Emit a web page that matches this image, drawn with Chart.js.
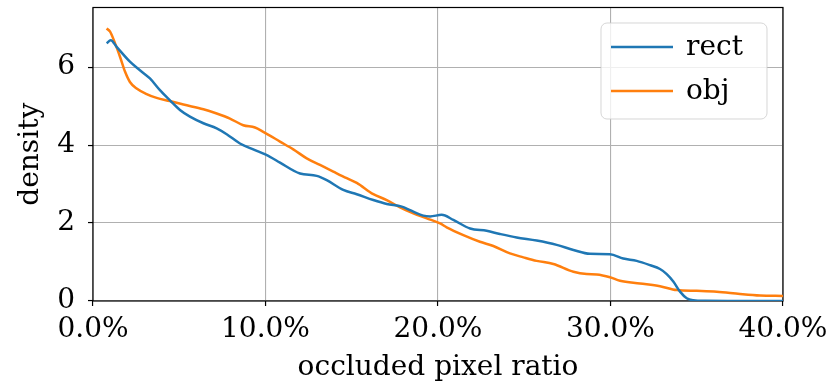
<!DOCTYPE html>
<html>
<head>
<meta charset="utf-8">
<title>density</title>
<script src="https://cdn.jsdelivr.net/npm/chart.js@4/dist/chart.umd.min.js"></script>
<style>
  html, body { margin: 0; padding: 0; background: #ffffff; }
  #wrap { width: 830px; height: 390px; position: relative; }
</style>
</head>
<body>
<div id="wrap"><canvas id="c" width="830" height="390"></canvas></div>
<script>
// occluded pixel ratio (%) and density for each method
const seriesNames = ['rect', 'obj'];
const seriesColors = ['#1f77b4', '#ff7f0e'];

const rectX = [0.79, 1.03, 1.37, 2.14, 2.72, 3.30, 3.88, 4.46, 5.04, 5.62, 6.40, 7.17, 7.75, 8.52, 9.29, 10.26,
  10.84, 12.0, 12.97, 13.55, 14.51, 15.29, 16.25, 17.03, 17.9, 18.38, 19.15, 19.54, 20.21, 20.89, 21.86, 22.82,
  23.59, 24.56, 25.72, 26.88, 27.85, 28.81, 29.97, 30.74, 31.52, 32.29, 32.87, 33.26, 33.64, 34.03, 34.42, 34.8,
  35.5, 37.0, 40.0];
const rectY = [6.61, 6.69, 6.52, 6.14, 5.92, 5.71, 5.41, 5.15, 4.90, 4.73, 4.56, 4.43, 4.28, 4.04, 3.89, 3.70,
  3.55, 3.27, 3.21, 3.10, 2.85, 2.74, 2.59, 2.49, 2.42, 2.33, 2.19, 2.17, 2.21, 2.08, 1.86, 1.80,
  1.72, 1.63, 1.55, 1.44, 1.31, 1.21, 1.20, 1.09, 1.03, 0.92, 0.82, 0.69, 0.50, 0.24, 0.07, 0.02,
  0.005, 0.003, 0.002];

const objX = [0.79, 0.99, 1.28, 1.57, 1.86, 2.14, 2.53, 3.11, 3.69, 4.46, 5.24, 6.40, 7.17, 7.94, 8.71, 9.39,
  9.87, 10.84, 11.61, 12.39, 13.16, 13.93, 14.71, 15.29, 16.25, 17.03, 17.80, 18.57, 19.35, 20.12, 20.5, 21.47,
  22.43, 23.21, 24.17, 24.95, 25.72, 26.69, 27.85, 28.62, 29.2, 29.97, 30.55, 31.71, 32.87, 33.84, 35.0, 36.16,
  37.51, 38.67, 40.0];
const objY = [6.99, 6.91, 6.61, 6.26, 5.88, 5.62, 5.45, 5.31, 5.21, 5.13, 5.04, 4.92, 4.81, 4.68, 4.51, 4.45,
  4.34, 4.09, 3.89, 3.66, 3.49, 3.32, 3.15, 3.03, 2.74, 2.59, 2.40, 2.25, 2.12, 1.99, 1.89, 1.69,
  1.52, 1.41, 1.22, 1.12, 1.03, 0.95, 0.75, 0.69, 0.68, 0.61, 0.52, 0.45, 0.38, 0.28, 0.26, 0.24,
  0.18, 0.14, 0.13];

const xTicks = [0, 10, 20, 30, 40];
const yTicks = [0, 2, 4, 6];

const FONT = 'DejaVu Serif';
const FONT_SIZE = 28;
const LINE_W = 2.5;

const toPoints = (xs, ys) => xs.map((x, i) => ({ x: x, y: ys[i] }));

// black frame around the plotting area
const framePlugin = {
  id: 'frame',
  beforeDatasetsDraw(chart) {
    const { ctx, chartArea: a } = chart;
    ctx.save();
    ctx.strokeStyle = '#000000';
    ctx.lineWidth = 1.2;
    ctx.strokeRect(a.left, a.top, a.right - a.left, a.bottom - a.top);
    ctx.restore();
  }
};

// legend box in the upper right of the plotting area
const boxLegendPlugin = {
  id: 'boxLegend',
  afterDraw(chart) {
    const { ctx } = chart;
    const x = 601, y = 23, w = 166, h = 96, r = 6;
    ctx.save();
    ctx.beginPath();
    ctx.moveTo(x + r, y);
    ctx.lineTo(x + w - r, y);
    ctx.arcTo(x + w, y, x + w, y + r, r);
    ctx.lineTo(x + w, y + h - r);
    ctx.arcTo(x + w, y + h, x + w - r, y + h, r);
    ctx.lineTo(x + r, y + h);
    ctx.arcTo(x, y + h, x, y + h - r, r);
    ctx.lineTo(x, y + r);
    ctx.arcTo(x, y, x + r, y, r);
    ctx.closePath();
    ctx.fillStyle = 'rgba(255,255,255,0.8)';
    ctx.fill();
    ctx.strokeStyle = 'rgba(204,204,204,0.8)';
    ctx.lineWidth = 1;
    ctx.stroke();

    ctx.font = FONT_SIZE + 'px "' + FONT + '"';
    ctx.textBaseline = 'alphabetic';
    ctx.textAlign = 'left';
    chart.data.datasets.forEach((ds, i) => {
      const ly = 47 + i * 44;
      ctx.beginPath();
      ctx.moveTo(611, ly);
      ctx.lineTo(673, ly);
      ctx.strokeStyle = ds.borderColor;
      ctx.lineWidth = LINE_W;
      ctx.stroke();
      ctx.fillStyle = '#000000';
      ctx.fillText(ds.label, 686, ly + 8);
    });
    ctx.restore();
  }
};

new Chart(document.getElementById('c'), {
  type: 'line',
  data: {
    datasets: [
      { label: seriesNames[0], data: toPoints(rectX, rectY), borderColor: seriesColors[0],
        backgroundColor: seriesColors[0], borderWidth: LINE_W, pointRadius: 0, cubicInterpolationMode: 'monotone', fill: false },
      { label: seriesNames[1], data: toPoints(objX, objY), borderColor: seriesColors[1],
        backgroundColor: seriesColors[1], borderWidth: LINE_W, pointRadius: 0, cubicInterpolationMode: 'monotone', fill: false }
    ]
  },
  options: {
    responsive: false,
    animation: false,
    events: [],
    layout: { padding: { left: 0, right: 47, top: 7.5, bottom: 0 } },
    plugins: { legend: { display: false }, tooltip: { enabled: false } },
    scales: {
      x: {
        type: 'linear',
        min: 0,
        max: 40,
        afterBuildTicks(scale) { scale.ticks = xTicks.map(v => ({ value: v })); },
        afterFit(scale) {
          scale.height = 89;
          scale.paddingLeft = 0; scale.paddingRight = 0;
          scale.paddingTop = 0; scale.paddingBottom = 0;
        },
        ticks: {
          callback: v => v.toFixed(1) + '%',
          color: '#000000',
          font: { family: FONT, size: FONT_SIZE },
          padding: 7,
          maxRotation: 0,
          autoSkip: false
        },
        grid: { color: '#b0b0b0', lineWidth: 1.1, tickColor: '#000000', tickLength: 5, tickWidth: 1.2 },
        border: { display: false },
        title: {
          display: true,
          text: 'occluded pixel ratio',
          color: '#000000',
          font: { family: FONT, size: FONT_SIZE },
          padding: { top: 0, bottom: 5 }
        }
      },
      y: {
        type: 'linear',
        min: 0,
        max: 7.53,
        afterBuildTicks(scale) { scale.ticks = yTicks.map(v => ({ value: v })); },
        afterFit(scale) {
          scale.width = 93;
          scale.paddingLeft = 0; scale.paddingRight = 0;
          scale.paddingTop = 0; scale.paddingBottom = 0;
        },
        ticks: {
          callback: v => String(v),
          color: '#000000',
          font: { family: FONT, size: FONT_SIZE },
          padding: 13
        },
        grid: { color: '#b0b0b0', lineWidth: 1.1, tickColor: '#000000', tickLength: 5, tickWidth: 1.2 },
        border: { display: false },
        title: {
          display: true,
          text: 'density',
          color: '#000000',
          font: { family: FONT, size: FONT_SIZE },
          padding: { top: 14, bottom: 0 }
        }
      }
    }
  },
  plugins: [framePlugin, boxLegendPlugin]
});
</script>
</body>
</html>
